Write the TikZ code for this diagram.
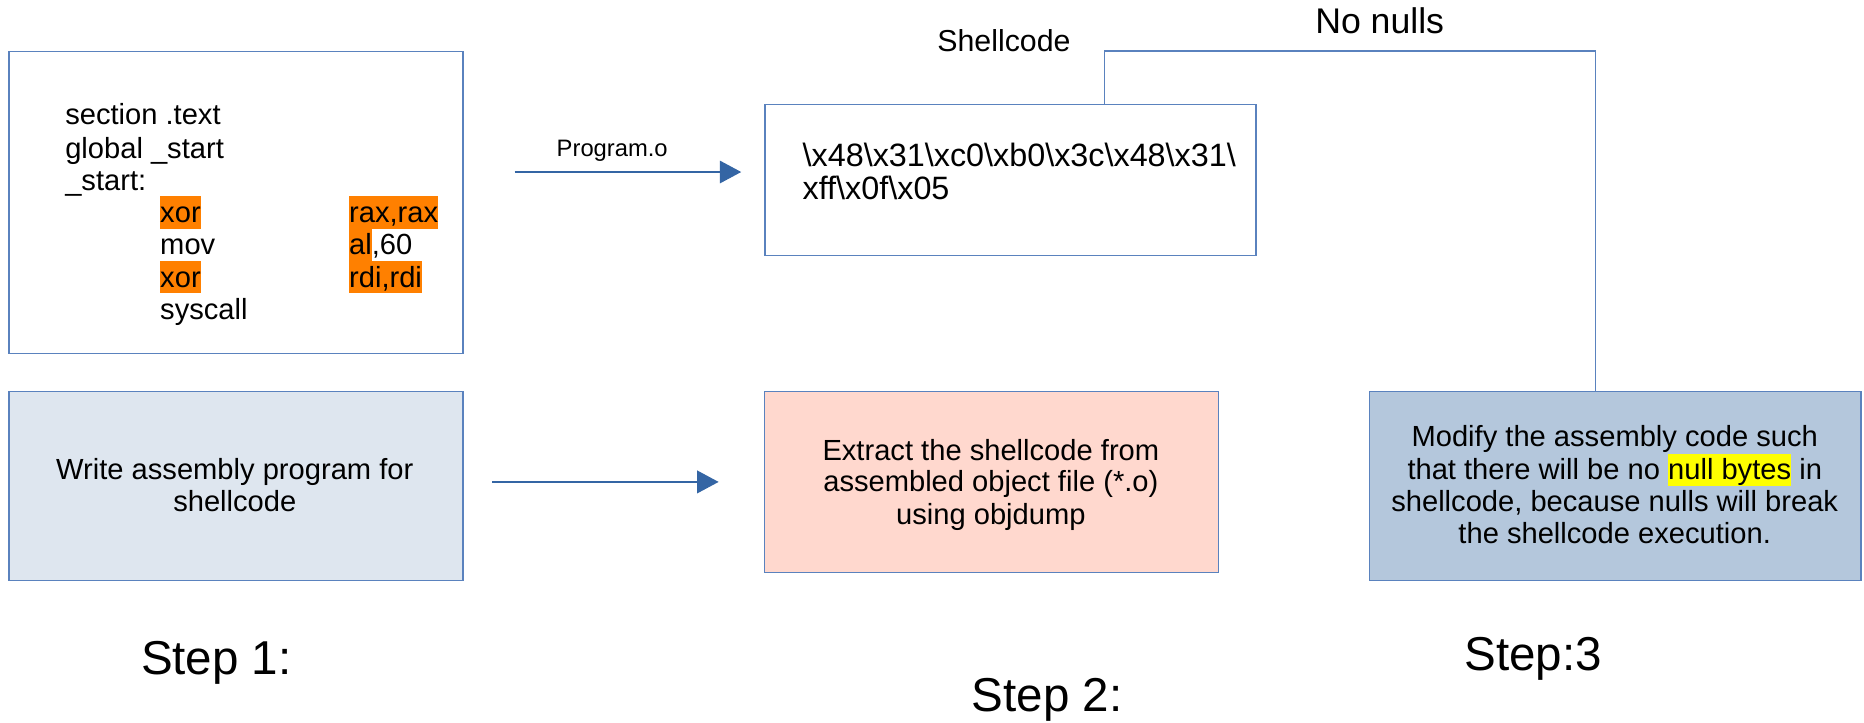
\documentclass[tikz,border=0pt]{standalone}
\usepackage{fontspec}
\setmainfont{Liberation Sans}
\usetikzlibrary{arrows.meta}
\definecolor{edge}{HTML}{5A82BE}
\definecolor{arrowc}{HTML}{3465A4}
\definecolor{fillB}{HTML}{DEE6EF}
\definecolor{fillE}{HTML}{FFD8CE}
\definecolor{fillD}{HTML}{B4C7DC}
\definecolor{hlorange}{HTML}{FF8000}
\definecolor{hlyellow}{HTML}{FFFF00}
\newcommand\hlb[2]{{\setlength\fboxsep{0pt}\colorbox{#1}{\rule[-5.3pt]{0pt}{27.3pt}#2}}}
\tikzset{
  box/.style={draw=edge, line width=1.1pt, inner sep=0pt, anchor=north west},
  txt/.style={inner sep=0pt, anchor=base, font=\fontsize{24.5}{28}\selectfont},
  codetxt/.style={txt, anchor=base west},
  steptxt/.style={inner sep=0pt, anchor=base, font=\fontsize{40}{46}\selectfont},
  flow/.style={draw=arrowc, line width=1.2pt, -{Triangle[length=18pt,width=19pt]}},
  link/.style={draw=edge, line width=1.1pt}
}
\begin{document}
\begin{tikzpicture}[x=1pt,y=-1pt]
\useasboundingbox[fill=white] (0,0) rectangle (1568,607.35);

% boxes
\node[box, minimum width=382pt, minimum height=254pt] (A) at (7,43) {};
\node[box, fill=fillB, minimum width=382pt, minimum height=159pt] (B) at (7,329) {};
\node[box, minimum width=413pt, minimum height=127pt] (C) at (643,87.5) {};
\node[box, fill=fillE, minimum width=382pt, minimum height=152pt] (E) at (642.5,329) {};
\node[box, fill=fillD, minimum width=413.5pt, minimum height=159pt] (D) at (1151.5,329) {};

% code in box A
\node[codetxt] (l1) at (54.7,105) {section .text};
\node[codetxt] (l2) at (54.7,133) {global \_start};
\node[codetxt] (l3) at (54.7,160) {\_start:};
\node[codetxt] (l4) at (134.6,187) {\hlb{hlorange}{xor}};
\node[codetxt] (l5) at (134.6,214.5) {mov};
\node[codetxt] (l6) at (134.6,241.5) {\hlb{hlorange}{xor}};
\node[codetxt] (l7) at (134.6,269) {syscall};
\node[codetxt] (r4) at (293.5,187) {\hlb{hlorange}{rax,rax}};
\node[codetxt] (r5) at (293.5,214.5) {\hlb{hlorange}{al},60};
\node[codetxt] (r6) at (293.5,241.5) {\hlb{hlorange}{rdi,rdi}};

% box B text
\node[txt] (b1) at (197.5,403) {Write assembly program for};
\node[txt] (b2) at (197.5,430.6) {shellcode};

% box C text
\node[codetxt, font=\fontsize{27.2}{31}\selectfont] (c1) at (675,140) {\textbackslash x48\textbackslash x31\textbackslash xc0\textbackslash xb0\textbackslash x3c\textbackslash x48\textbackslash x31\textbackslash};
\node[codetxt, font=\fontsize{27.2}{31}\selectfont] (c2) at (675,168) {xff\textbackslash x0f\textbackslash x05};

% box E text
\node[txt] (e1) at (833.5,387) {Extract the shellcode from};
\node[txt] (e2) at (833.5,413.6) {assembled object file (*.o)};
\node[txt] (e3) at (833.5,441.3) {using objdump};

% box D text
\node[txt] (d1) at (1358.3,376) {Modify the assembly code such};
\node[txt] (d2) at (1358.3,403.5) {that there will be no \hlb{hlyellow}{null bytes} in};
\node[txt] (d3) at (1358.3,430.5) {shellcode, because nulls will break};
\node[txt] (d4) at (1358.3,457.5) {the shellcode execution.};

% labels
\node[txt, font=\fontsize{20}{23}\selectfont] (prog) at (515,131.8) {Program.o};
\node[txt, font=\fontsize{25.5}{29}\selectfont] (shc) at (844.5,43.5) {Shellcode};
\node[txt, font=\fontsize{30}{34}\selectfont] (nonull) at (1160.6,28) {No nulls};
\node[steptxt] (s1) at (182,567.7) {Step 1:};
\node[steptxt] (s2) at (881,598.5) {Step 2:};
\node[steptxt] (s3) at (1289.6,564.3) {Step:3};

% arrows
\coordinate (a1s) at (414,405.4);
\coordinate (a1e) at (604.5,405.4);
\coordinate (a2s) at (433,144.7);
\coordinate (a2e) at (623.5,144.7);
\draw[flow] (a1s) -- (a1e);
\draw[flow] (a2s) -- (a2e);

% connector C -> D
\coordinate (k1) at (929,43);
\coordinate (k2) at (1342.3,43);
\draw[link] (k1 |- C.north) -- (k1) -- (k2) -- (k2 |- D.north);
\end{tikzpicture}
\end{document}
